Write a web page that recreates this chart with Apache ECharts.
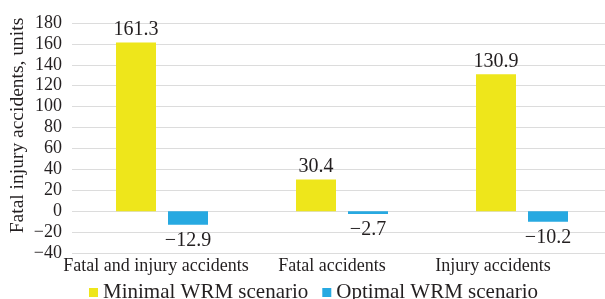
<!DOCTYPE html>
<html>
<head>
<meta charset="utf-8">
<script src="https://cdn.jsdelivr.net/npm/echarts@6/dist/echarts.min.js"></script>
<style>
  html, body { margin: 0; padding: 0; background: #fff; }
  #chart { width: 605px; height: 299px; }
</style>
</head>
<body>
<div id="chart"></div>
<script>
  var categories = ['Fatal and injury accidents', 'Fatal accidents', 'Injury accidents'];
  var minimalValues = [161.3, 30.4, 130.9];
  var optimalValues = [-12.9, -2.7, -10.2];
  var seriesNames = ['Minimal WRM scenario', 'Optimal WRM scenario'];

  var serif = '"Liberation Serif", "DejaVu Serif", serif';
  var textColor = '#231f20';

  // category labels in the original sit a little left of the bar groups
  var labelShiftLeft = [6, 10, 29];

  var chart = echarts.init(document.getElementById('chart'));

  var option = {
    animation: false,
    textStyle: { fontFamily: serif },
    grid: { left: 72, top: 23, width: 540, height: 230, outerBoundsMode: 'none', containLabel: false },
    legend: {
      left: 84,
      top: 277,
      icon: 'rect',
      itemWidth: 9,
      itemHeight: 9,
      itemGap: 14,
      textStyle: { fontFamily: serif, fontSize: 21, color: textColor },
      data: seriesNames
    },
    xAxis: {
      type: 'category',
      data: categories.map(function (c, i) {
        return { value: c, textStyle: { padding: [0, labelShiftLeft[i] * 2, 0, 0] } };
      }),
      axisLine: { show: false },
      axisTick: { show: false },
      axisLabel: { interval: 0, fontFamily: serif, fontSize: 18, color: textColor, margin: 4 }
    },
    yAxis: {
      type: 'value',
      min: -40,
      max: 180,
      interval: 20,
      name: 'Fatal injury accidents, units',
      nameLocation: 'middle',
      nameGap: 44,
      nameMoveOverlap: false,
      nameTextStyle: { fontFamily: serif, fontSize: 19.5, color: textColor, padding: [0, 0, 0, 25] },
      axisLine: { show: false },
      axisTick: { show: false },
      axisLabel: {
        fontFamily: serif, fontSize: 18, color: textColor, margin: 10,
        formatter: function (v) { return v < 0 ? '\u2212' + Math.abs(v) : String(v); }
      },
      splitLine: { lineStyle: { color: '#dcdcdc', width: 1 } }
    },
    series: [
      {
        name: seriesNames[0],
        type: 'bar',
        barWidth: 40,
        barGap: '30%',
        itemStyle: { color: '#eee61b' },
        label: {
          show: true, position: 'top', distance: 3,
          fontFamily: serif, fontSize: 20, color: textColor,
          formatter: function (p) { return p.value.toFixed(1); }
        },
        data: minimalValues
      },
      {
        name: seriesNames[1],
        type: 'bar',
        barWidth: 40,
        barGap: '30%',
        itemStyle: { color: '#27a9e1' },
        label: {
          show: true, position: 'bottom', distance: 6,
          fontFamily: serif, fontSize: 20, color: textColor,
          formatter: function (p) { return '\u2212' + Math.abs(p.value).toFixed(1); }
        },
        data: optimalValues
      }
    ]
  };

  chart.setOption(option);
</script>
</body>
</html>
